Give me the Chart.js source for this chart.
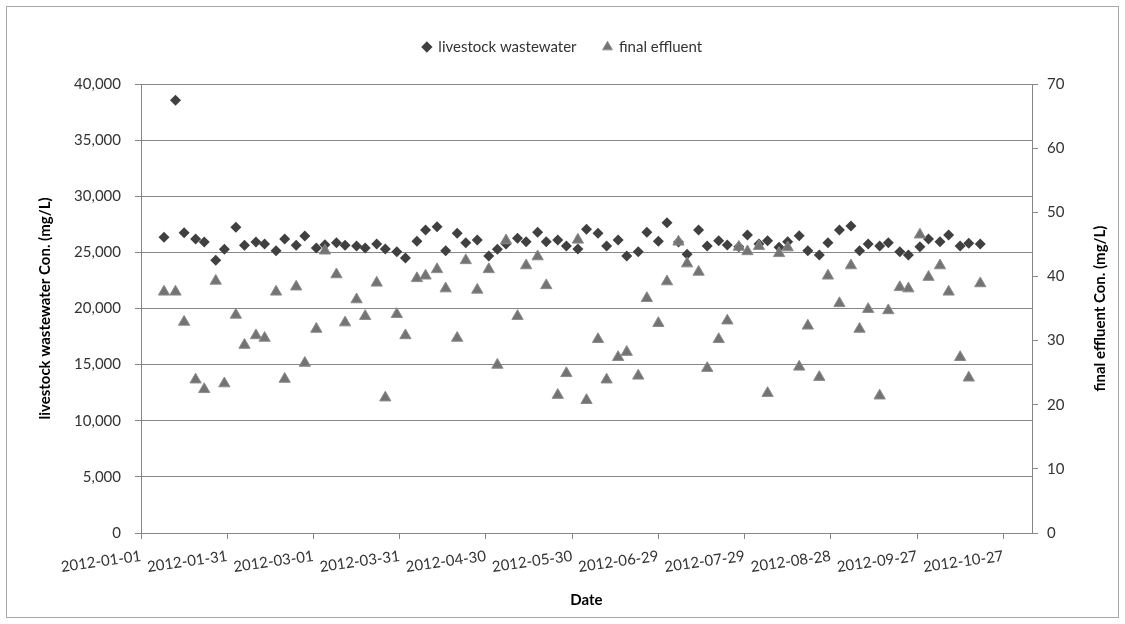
<!DOCTYPE html>
<html>
<head>
    <title>Livestock wastewater / final effluent concentration</title>
    <script src="https://cdn.jsdelivr.net/npm/chart.js"></script>
    <style>
        body {
            margin: 0;
            background: #fff;
        }
        canvas {
            display: block;
        }
    </style>
</head>
<body>
    <canvas id="concChart" width="1125" height="624"></canvas>
    <script>
        // sampling dates (Mon / Fri mostly)
        const dates = [
            '2012-01-09', '2012-01-13', '2012-01-16', '2012-01-20', '2012-01-23', '2012-01-27', '2012-01-30',
            '2012-02-03', '2012-02-06', '2012-02-10', '2012-02-13', '2012-02-17', '2012-02-20', '2012-02-24', '2012-02-27',
            '2012-03-02', '2012-03-05', '2012-03-09', '2012-03-12', '2012-03-16', '2012-03-19', '2012-03-23', '2012-03-26', '2012-03-30',
            '2012-04-02', '2012-04-06', '2012-04-09', '2012-04-13', '2012-04-16', '2012-04-20', '2012-04-23', '2012-04-27',
            '2012-05-01', '2012-05-04', '2012-05-07', '2012-05-11', '2012-05-14', '2012-05-18', '2012-05-21', '2012-05-25', '2012-05-28',
            '2012-06-01', '2012-06-04', '2012-06-08', '2012-06-11', '2012-06-15', '2012-06-18', '2012-06-22', '2012-06-25', '2012-06-29',
            '2012-07-02', '2012-07-06', '2012-07-09', '2012-07-13', '2012-07-16', '2012-07-20', '2012-07-23', '2012-07-27', '2012-07-30',
            '2012-08-03', '2012-08-06', '2012-08-10', '2012-08-13', '2012-08-17', '2012-08-20', '2012-08-24', '2012-08-27', '2012-08-31',
            '2012-09-04', '2012-09-07', '2012-09-10', '2012-09-14', '2012-09-17', '2012-09-21', '2012-09-24', '2012-09-28',
            '2012-10-01', '2012-10-05', '2012-10-08', '2012-10-12', '2012-10-15', '2012-10-19'
        ];

        // livestock wastewater, mg/L (left axis)
        const livestock = [
            26340, 38550, 26750, 26190, 25930, 24300, 25280,
            27240, 25630, 25930, 25750, 25150, 26190, 25630, 26460,
            25390, 25690, 25860, 25630, 25570, 25390, 25750, 25300, 25060,
            24500, 25990, 26990, 27290, 25150, 26700, 25860, 26100,
            24680, 25280, 25750, 26260, 25950, 26790, 25950, 26100, 25570,
            25300, 27060, 26700, 25570, 26100, 24680, 25060, 26790, 25990,
            27650, 25930, 24830, 26990, 25570, 26040, 25660, 25510, 26550,
            25750, 26040, 25450, 25950, 26490, 25150, 24770, 25860, 26990,
            27350, 25150, 25750, 25570, 25860, 25060, 24770, 25510,
            26190, 25950, 26550, 25570, 25810, 25750
        ];

        // final effluent, mg/L (right axis)
        const effluent = [
            37.6, 37.6, 32.9, 23.9, 22.4, 39.3, 23.3,
            34.0, 29.3, 30.8, 30.4, 37.6, 24.0, 38.4, 26.5,
            31.8, 44.0, 40.3, 32.8, 36.4, 33.8, 39.0, 21.1, 34.1,
            30.8, 39.7, 40.1, 41.1, 38.1, 30.4, 42.5, 37.9,
            41.1, 26.2, 45.6, 33.8, 41.7, 43.1, 38.6, 21.5, 24.9,
            45.7, 20.7, 30.2, 23.9, 27.4, 28.2, 24.5, 36.6, 32.7,
            39.2, 45.4, 42.0, 40.7, 25.7, 30.2, 33.1, 44.6, 43.9,
            44.7, 21.8, 43.6, 44.5, 25.9, 32.3, 24.3, 40.1, 35.8,
            41.7, 31.8, 34.9, 21.4, 34.7, 38.3, 38.1, 46.5,
            39.9, 41.7, 37.6, 27.4, 24.2, 38.9
        ];

        const xTickLabels = [
            '2012-01-01', '2012-01-31', '2012-03-01', '2012-03-31', '2012-04-30', '2012-05-30',
            '2012-06-29', '2012-07-29', '2012-08-28', '2012-09-27', '2012-10-27'
        ];
        const xAxisEnd = '2012-11-06';

        const START = Date.UTC(2012, 0, 1);
        function dayOf(s) {
            const [y, m, d] = s.split('-').map(Number);
            return (Date.UTC(y, m - 1, d) - START) / 86400000;
        }

        const FONT = 'Lato';
        const GRID = '#868686';
        const TEXT = '#333333';

        // excel-like outer frame, fixed legend band and right title
        const chartDecor = {
            id: 'chartDecor',
            beforeLayout(chart) {
                const lg = chart.legend;
                if (lg && !lg._fixed) {
                    const fit = lg.fit;
                    lg.fit = function () {
                        fit.call(this);
                        this.height = 71.5;
                    };
                    lg._fixed = true;
                }
            },
            beforeDraw(chart) {
                const ctx = chart.ctx;
                ctx.save();
                ctx.fillStyle = '#fff';
                ctx.fillRect(0, 0, chart.width, chart.height);
                ctx.strokeStyle = '#a6a6a6';
                ctx.lineWidth = 1;
                ctx.strokeRect(6.5, 6.5, chart.width - 13, chart.height - 13);
                ctx.restore();
            },
            afterDraw(chart) {
                const ctx = chart.ctx;
                const area = chart.chartArea;
                ctx.save();
                ctx.translate(chart.width - 25, (area.top + area.bottom) / 2);
                ctx.rotate(-Math.PI / 2);
                ctx.font = 'bold 15px ' + FONT;
                ctx.fillStyle = '#000';
                ctx.textAlign = 'center';
                ctx.textBaseline = 'middle';
                ctx.fillText('final effluent Con. (mg/L)', 0, 0);
                ctx.restore();
            }
        };

        const concChart = new Chart(document.getElementById('concChart').getContext('2d'), {
            type: 'scatter',
            data: {
                datasets: [
                    {
                        label: 'livestock wastewater',
                        data: dates.map((d, i) => ({ x: dayOf(d), y: livestock[i] })),
                        yAxisID: 'y',
                        pointStyle: 'rectRot',
                        pointRadius: 5.5,
                        pointHoverRadius: 5.5,
                        backgroundColor: '#404040',
                        borderColor: '#404040',
                        borderWidth: 0,
                        order: 1
                    },
                    {
                        label: 'final effluent',
                        data: dates.map((d, i) => ({ x: dayOf(d), y: effluent[i] })),
                        yAxisID: 'y2',
                        pointStyle: 'triangle',
                        pointRadius: 6.5,
                        pointHoverRadius: 6.5,
                        backgroundColor: '#737373',
                        borderColor: '#8c8c8c',
                        borderWidth: 1,
                        order: 0
                    }
                ]
            },
            options: {
                responsive: false,
                animation: false,
                devicePixelRatio: 1,
                layout: { padding: { top: 12.5, left: 0, right: 0, bottom: 0 } },
                plugins: {
                    tooltip: { enabled: false },
                    legend: {
                        position: 'top',
                        labels: {
                            usePointStyle: true,
                            boxWidth: 8,
                            boxHeight: 8,
                            padding: 27,
                            color: TEXT,
                            font: { family: FONT, size: 15 },
                            sort: (a, b) => a.datasetIndex - b.datasetIndex
                        }
                    }
                },
                scales: {
                    x: {
                        type: 'linear',
                        min: 0,
                        max: dayOf(xAxisEnd),
                        afterBuildTicks: (scale) => {
                            scale.ticks = xTickLabels.map(l => ({ value: dayOf(l) }));
                        },
                        afterFit: (scale) => { scale.height = 91; },
                        ticks: {
                            autoSkip: false,
                            minRotation: 8,
                            maxRotation: 8,
                            padding: 8,
                            color: TEXT,
                            font: { family: FONT, size: 15 },
                            callback: (value, index) => xTickLabels[index]
                        },
                        grid: { drawOnChartArea: false, tickLength: 6, color: GRID },
                        border: { color: GRID },
                        title: {
                            display: true,
                            text: 'Date',
                            color: '#000',
                            font: { family: FONT, size: 15, weight: 'bold' },
                            padding: { top: 0, bottom: 15 }
                        }
                    },
                    y: {
                        position: 'left',
                        min: 0,
                        max: 40000,
                        afterFit: (scale) => { scale.width = 141; },
                        ticks: {
                            stepSize: 5000,
                            padding: 14,
                            color: TEXT,
                            font: { family: FONT, size: 15 },
                            callback: (v) => v.toLocaleString('en-US')
                        },
                        grid: { color: GRID, tickLength: 6 },
                        border: { color: GRID },
                        title: {
                            display: true,
                            text: 'livestock wastewater Con. (mg/L)',
                            color: '#000',
                            font: { family: FONT, size: 15, weight: 'bold' },
                            padding: { top: 36, bottom: 0 }
                        }
                    },
                    y2: {
                        position: 'right',
                        min: 0,
                        max: 70,
                        afterFit: (scale) => { scale.width = 93; },
                        ticks: {
                            stepSize: 10,
                            padding: 9,
                            color: TEXT,
                            font: { family: FONT, size: 15 }
                        },
                        grid: { drawOnChartArea: false, color: GRID, tickLength: 6 },
                        border: { color: GRID }
                    }
                }
            },
            plugins: [chartDecor]
        });
    </script>
</body>
</html>
